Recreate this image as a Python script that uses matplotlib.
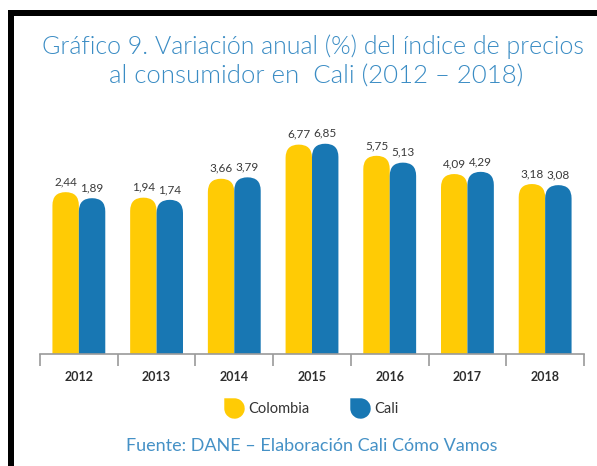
import numpy as np
import matplotlib
matplotlib.use("Agg")
import matplotlib.pyplot as plt
from matplotlib.patches import FancyBboxPatch, Rectangle
from matplotlib.path import Path
from matplotlib.lines import Line2D

plt.rcParams['font.family'] = ['Lato', 'DejaVu Sans']

# data
years = ['2012', '2013', '2014', '2015', '2016', '2017', '2018']
colombia = [2.44, 1.94, 3.66, 6.77, 5.75, 4.09, 3.18]
cali = [1.89, 1.74, 3.79, 6.85, 5.13, 4.29, 3.08]

YELLOW = '#FFCB05'
BLUE = '#1877B3'
TITLE_BLUE = '#3A8CC4'
W, H = 597, 466

fig = plt.figure(figsize=(W / 100, H / 100), dpi=100)
ax = fig.add_axes([40 / W, 1 - 354 / H, 544 / W, 224 / H])
ax.set_xlim(-0.5, 6.5)
ax.set_ylim(-12.3, 8.1)

# px per data unit, used to keep the round caps circular
px_x = 544 / 7.0
px_y = 224 / (8.1 + 12.3)
bw = 0.34
cap_x = bw / 2
aspect = px_x / px_y

x = np.arange(len(years))
for vals, off, col in [(colombia, -bw / 2, YELLOW), (cali, bw / 2, BLUE)]:
    for xi, v in zip(x, vals):
        bottom = -20
        p = FancyBboxPatch((xi + off - bw / 2, bottom), bw, v - bottom,
                           boxstyle="round,pad=0,rounding_size=%f" % cap_x,
                           mutation_aspect=aspect, facecolor=col,
                           edgecolor='none', zorder=2)
        ax.add_patch(p)
        ax.annotate(('%.2f' % v).replace('.', ','), (xi + off, v),
                    xytext=(0, 3.5), textcoords='offset points',
                    ha='center', va='bottom', fontsize=8.5, color='#3a3a3a')

for s in ['top', 'left', 'right']:
    ax.spines[s].set_visible(False)
ax.spines['bottom'].set_color('#9a9a9a')
ax.spines['bottom'].set_linewidth(1.2)
ax.set_yticks([])
ax.set_xticks(x)
ax.set_xticklabels(years, fontsize=9, fontweight='bold', color='#2e2e2e')
ax.tick_params(axis='x', which='major', length=0, pad=12)
ax.set_xticks(np.arange(-0.5, 7, 1), minor=True)
ax.tick_params(axis='x', which='minor', length=8.5, width=1.2, color='#9a9a9a')

# title and source
fig.text(0.525, 1 - 47 / H, 'Gráfico 9. Variación anual (%) del índice de precios',
         ha='center', va='center', fontsize=18, color=TITLE_BLUE, fontweight=300)
fig.text(0.53, 1 - 77 / H, 'al consumidor en  Cali (2012 – 2018)',
         ha='center', va='center', fontsize=18.5, color=TITLE_BLUE, fontweight=300)
fig.text(0.523, 1 - 446 / H, 'Fuente: DANE – Elaboración Cali Cómo Vamos',
         ha='center', va='center', fontsize=13, color='#4591C6')

# legend marker: circle with one square corner
arc = Path.arc(-180, 90)
verts = np.vstack([arc.vertices, [[-1, 1], [-1, 0]]])
codes = list(arc.codes) + [Path.LINETO, Path.CLOSEPOLY]
mk = Path(verts, codes)
handles = [Line2D([], [], linestyle='none', marker=mk, markersize=15,
                  markerfacecolor=c, markeredgecolor='none') for c in (YELLOW, BLUE)]
fig.legend(handles, ['Colombia', 'Cali'], loc='center', ncol=2,
           bbox_to_anchor=(0.52, 1 - 409 / H), frameon=False,
           fontsize=10.5, labelcolor='#333333', handletextpad=0.2,
           columnspacing=2.6, handlelength=1.6)

# black frame at top and left
fig.patches.append(Rectangle((8 / W, 1 - 16 / H), 1, 6 / H, transform=fig.transFigure,
                             facecolor='black', edgecolor='none', figure=fig))
fig.patches.append(Rectangle((8 / W, 0), 6 / W, 1 - 10 / H, transform=fig.transFigure,
                             facecolor='black', edgecolor='none', figure=fig))

fig.savefig('out.png', dpi=100)
